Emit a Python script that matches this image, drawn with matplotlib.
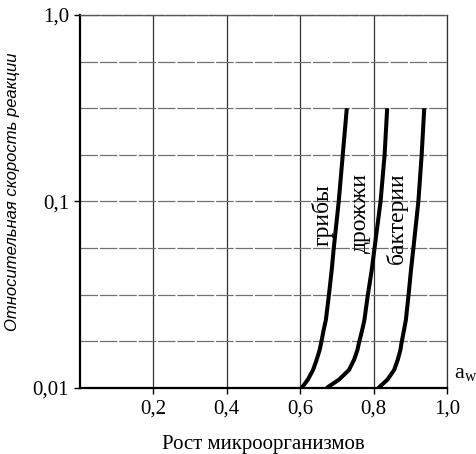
import matplotlib.pyplot as plt
import numpy as np

# Relative reaction rate levels
rate = [0.01, 0.0111, 0.0125, 0.0142, 0.016, 0.0174, 0.0205, 0.0232,
        0.0312, 0.0431, 0.0551, 0.1, 0.178, 0.316]

# Water activity a_w for each group at those rate levels
aw_fungi = [0.604, 0.621, 0.635, 0.645, 0.653, 0.657, 0.664, 0.670,
            0.678, 0.686, 0.691, 0.705, 0.716, 0.727]
aw_yeast = [0.672, 0.706, 0.733, 0.747, 0.756, 0.760, 0.769, 0.775,
            0.784, 0.795, 0.802, 0.819, 0.830, 0.837]
aw_bacteria = [0.813, 0.838, 0.856, 0.866, 0.873, 0.876, 0.883, 0.888,
               0.895, 0.902, 0.908, 0.922, 0.931, 0.938]

names = ['грибы', 'дрожжи', 'бактерии']
label_pos = [(0.660, 0.085), (0.765, 0.087), (0.864, 0.081)]

x_ticks = [0.2, 0.4, 0.6, 0.8, 1.0]
x_labels = ['0,2', '0,4', '0,6', '0,8', '1,0']
y_ticks = [0.01, 0.1, 1.0]
y_labels = ['0,01', '0,1', '1,0']

serif = 'Liberation Serif'

fig = plt.figure(figsize=(4.77, 4.54), dpi=100)
ax = fig.add_axes([0.1677, 0.1454, 0.7694, 0.8216])

for xs in (aw_fungi, aw_yeast, aw_bacteria):
    ax.plot(xs, rate, color='black', lw=2.9, solid_capstyle='butt',
            solid_joinstyle='round', zorder=3)

for name, (tx, ty) in zip(names, label_pos):
    ax.text(tx, ty, name, rotation=90, ha='center', va='center',
            fontsize=17, family=serif, zorder=4)

ax.set_yscale('log')
ax.set_xlim(0, 1.0)
ax.set_ylim(0.01, 1.0)

ax.set_xticks(x_ticks)
ax.set_xticklabels(x_labels, family=serif, fontsize=15)
ax.set_yticks(y_ticks)
ax.set_yticklabels(y_labels, family=serif, fontsize=15)
ax.set_yticks(10 ** (-2 + np.arange(1, 8) / 4), minor=True)
ax.yaxis.set_minor_formatter(plt.NullFormatter())
ax.tick_params(which='major', direction='out', length=4, width=1, pad=4)
ax.tick_params(which='minor', length=0)

# grid: vertical solid, horizontal dashed
ax.xaxis.grid(True, color='#333333', lw=0.9, ls='-')
ax.yaxis.grid(True, which='both', color='#707070', lw=0.9, ls=(0, (14, 1.5)))
ax.set_axisbelow(True)

for s in ['left', 'bottom']:
    ax.spines[s].set_linewidth(1.6)
ax.spines['top'].set_linestyle((0, (14, 1.5)))
ax.spines['top'].set_color('#555555')
ax.spines['top'].set_linewidth(1.0)
ax.spines['right'].set_color('#333333')
ax.spines['right'].set_linewidth(0.9)

ax.set_ylabel('Относительная скорость реакции', family='Liberation Sans',
              style='italic', fontsize=12)
ax.yaxis.set_label_coords(-0.163, 0.525)
ax.set_xlabel('Рост микроорганизмов', family=serif, fontsize=15, labelpad=12)
ax.text(1.02, 0.0105, r'a$_{\mathregular{w}}$', family=serif, fontsize=16,
        ha='left', va='bottom')

fig.savefig('out.png', dpi=100)
